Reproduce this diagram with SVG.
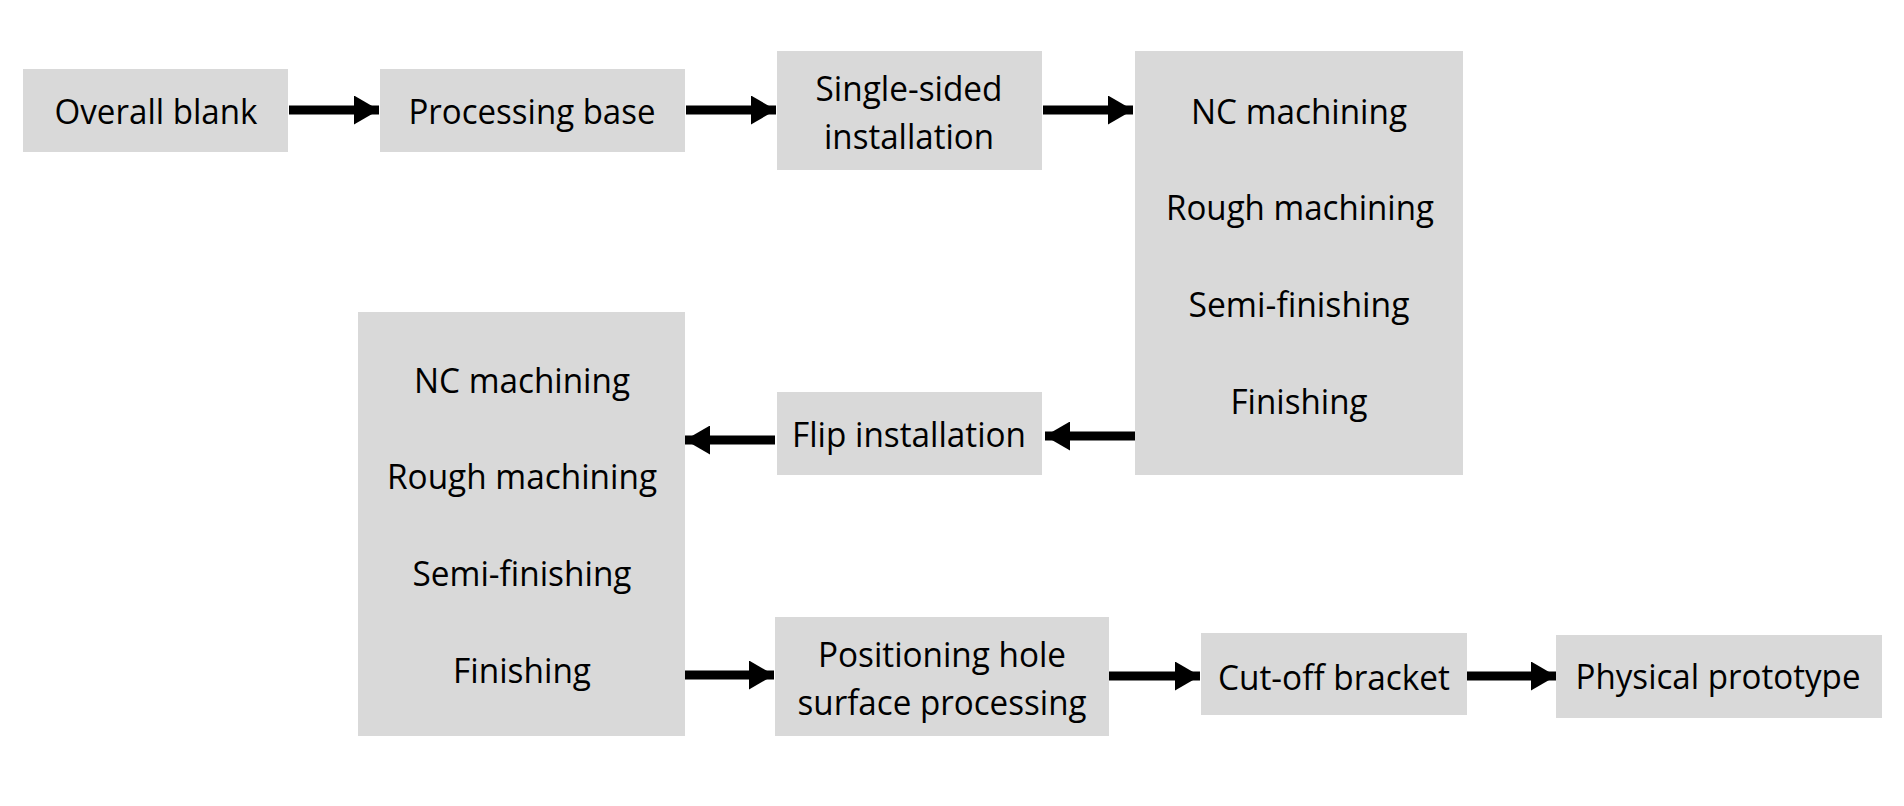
<svg xmlns="http://www.w3.org/2000/svg" width="1904" height="806" viewBox="0 0 1904 806">
<style>
.box{fill:#d9d9d9}
.t{font-family:"Open Sans","Noto Sans",sans-serif;font-size:35px;fill:#000;text-anchor:middle;dominant-baseline:central}
.c{stroke:#000;stroke-width:9;fill:none}
</style>
<defs>
<marker id="ah" markerUnits="userSpaceOnUse" markerWidth="25" markerHeight="29" refX="25" refY="14.5" orient="auto">
<path d="M0,0 L25,14.5 L0,29 Z" fill="#000"/>
</marker>
</defs>
<rect width="1904" height="806" fill="#fff"/>
<g id="n1"><rect class="box" x="23" y="69" width="265" height="83"/><text class="t" x="156" y="110" textLength="203" lengthAdjust="spacingAndGlyphs">Overall blank</text></g>
<g id="n2"><rect class="box" x="380" y="69" width="305" height="83"/><text class="t" x="532" y="110" textLength="247" lengthAdjust="spacingAndGlyphs">Processing base</text></g>
<g id="n3"><rect class="box" x="777" y="51" width="265" height="119"/><text class="t" x="909" y="87" textLength="187" lengthAdjust="spacingAndGlyphs">Single-sided</text><text class="t" x="909" y="135" textLength="170" lengthAdjust="spacingAndGlyphs">installation</text></g>
<g id="n4"><rect class="box" x="1135" y="51" width="328" height="424"/>
<text class="t" x="1299" y="110" textLength="216" lengthAdjust="spacingAndGlyphs">NC machining</text>
<text class="t" x="1300" y="206" textLength="268" lengthAdjust="spacingAndGlyphs">Rough machining</text>
<text class="t" x="1299" y="303" textLength="221" lengthAdjust="spacingAndGlyphs">Semi-finishing</text>
<text class="t" x="1299" y="400" textLength="137" lengthAdjust="spacingAndGlyphs">Finishing</text></g>
<g id="n5"><rect class="box" x="777" y="392" width="265" height="83"/><text class="t" x="909" y="433" textLength="234" lengthAdjust="spacingAndGlyphs">Flip installation</text></g>
<g id="n6"><rect class="box" x="358" y="312" width="327" height="424"/>
<text class="t" x="522" y="379" textLength="216" lengthAdjust="spacingAndGlyphs">NC machining</text>
<text class="t" x="522" y="475" textLength="270" lengthAdjust="spacingAndGlyphs">Rough machining</text>
<text class="t" x="522" y="572" textLength="219" lengthAdjust="spacingAndGlyphs">Semi-finishing</text>
<text class="t" x="522" y="669" textLength="138" lengthAdjust="spacingAndGlyphs">Finishing</text></g>
<g id="n7"><rect class="box" x="775" y="617" width="334" height="119"/><text class="t" x="942" y="653" textLength="248" lengthAdjust="spacingAndGlyphs">Positioning hole</text><text class="t" x="942" y="701" textLength="289" lengthAdjust="spacingAndGlyphs">surface processing</text></g>
<g id="n8"><rect class="box" x="1201" y="633" width="266" height="82"/><text class="t" x="1334" y="676" textLength="232" lengthAdjust="spacingAndGlyphs">Cut-off bracket</text></g>
<g id="n9"><rect class="box" x="1556" y="635" width="326" height="83"/><text class="t" x="1718" y="675" textLength="285" lengthAdjust="spacingAndGlyphs">Physical prototype</text></g>
<g id="connectors">
<path class="c" d="M289,110 H379" marker-end="url(#ah)"/>
<path class="c" d="M686,110 H776" marker-end="url(#ah)"/>
<path class="c" d="M1043,110 H1133" marker-end="url(#ah)"/>
<path class="c" d="M1135,436 H1045" marker-end="url(#ah)"/>
<path class="c" d="M775,440 H685" marker-end="url(#ah)"/>
<path class="c" d="M685,675 H774" marker-end="url(#ah)"/>
<path class="c" d="M1109,676 H1200" marker-end="url(#ah)"/>
<path class="c" d="M1467,676 H1556" marker-end="url(#ah)"/>
</g>
</svg>
